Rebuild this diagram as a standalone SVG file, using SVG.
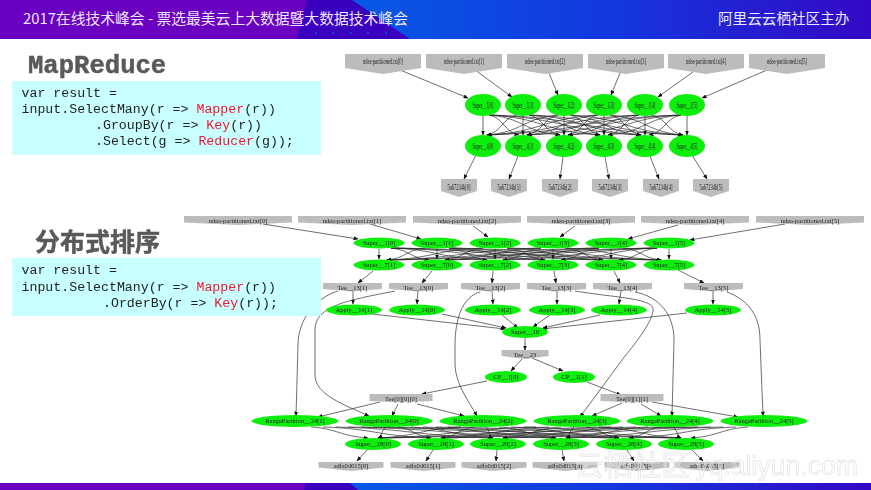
<svg xmlns="http://www.w3.org/2000/svg" width="871" height="490" viewBox="0 0 871 490">
<style>
text{font-family:"Liberation Serif","Noto Sans CJK SC",serif}
.hd{font-family:"Noto Sans CJK SC","Noto Sans",sans-serif;font-size:14.6px;fill:#ece6ff}
.code{font-family:"Liberation Mono",monospace;font-size:13.25px;fill:#222;white-space:pre}
.code tspan{fill:#f01830}
.ttl{font-family:"Liberation Mono","Noto Sans CJK SC",monospace;font-weight:700;fill:#595959;stroke:#595959;stroke-width:.5}
.box{fill:#c8ffff}
.g{fill:#11ee11}
.p{fill:#bcbcbc}
.l{text-anchor:middle;fill:#222;font-size:6.5px}
.t{font-size:8px}
.e{fill:none;stroke:#222;stroke-width:.65;marker-end:url(#a)}
.wm{font-size:28px;fill:#fff;fill-opacity:.3;stroke:#dcdcdc;stroke-width:.6}
.wc{font-family:"Noto Sans CJK SC",sans-serif}
.wl{font-family:"Liberation Sans",sans-serif}
</style>
<defs>
<linearGradient id="bl" gradientUnits="userSpaceOnUse" x1="350" y1="0" x2="871" y2="0"><stop offset="0" stop-color="#0758e4"/><stop offset=".5" stop-color="#1338de"/><stop offset="1" stop-color="#3308c4"/></linearGradient>
<filter id="soft" x="0" y="0" width="1" height="1"><feGaussianBlur stdDeviation=".35"/></filter>
<marker id="a" markerUnits="userSpaceOnUse" markerWidth="5" markerHeight="4" refX="4.5" refY="2" orient="auto"><path d="M0,0L5,2L0,4z" fill="#111" stroke="none"/></marker>
<polygon id="s1" class="p" points="-38,-7 38,-7 38,7 0,13 -38,7"/>
<polygon id="s2" class="p" points="-18,-8 18,-8 18,4 0,10 -18,4"/>
<polygon id="s3" class="p" points="-54,-5 54,-5 54,1.5 0,4 -54,1.5"/>
<polygon id="s4" class="p" points="-29.5,-4.5 29.5,-4.5 29.5,1.5 0,4 -29.5,1.5"/>
<polygon id="s5" class="p" points="-23.5,-5 23.5,-5 23.5,1 0,4 -23.5,1"/>
<polygon id="s6" class="p" points="-31.5,-5 31.5,-5 31.5,2 0,3.5 -31.5,2"/>
<polygon id="s7" class="p" points="-32.5,-4 32.5,-4 32.5,1.5 0,5 -32.5,1.5"/>
</defs>
<rect width="871" height="490" fill="#fff"/>
<g id="header">
<rect width="871" height="39" fill="url(#bl)"/>
<polygon points="290,0 352,0 410,39 290,39" fill="#3a00c0"/>
<polygon points="0,0 307,0 297,39 0,39" fill="#6a00c0"/>
<g fill="#1040d8"><rect x="315" y="32" width="2" height="2"/><rect x="332" y="32" width="2" height="2"/><rect x="350" y="32" width="2" height="2"/><rect x="367" y="32" width="2" height="2"/><rect x="385" y="32" width="2" height="2"/></g>
<rect y="39" width="871" height="1" fill="#fff" fill-opacity=".2"/>
<text class="hd" x="23" y="24" style="font-size:14.8px">2017在线技术峰会 - 票选最美云上大数据暨大数据技术峰会</text>
<text class="hd" x="718" y="24">阿里云云栖社区主办</text>
</g>
<g id="footer">
<rect y="483" width="871" height="7" fill="url(#bl)"/>
<polygon points="295,483 350,483 358,490 295,490" fill="#3a00c0"/>
<polygon points="0,483 306,483 304,490 0,490" fill="#6a00c0"/>
</g>
<g id="connectors" filter="url(#soft)"><g class="e">
<path d="M400,70L468,98"/><path d="M475,70L512,97"/><path d="M549,73L558,95"/><path d="M620,73L611,95"/><path d="M693,72L658,97"/><path d="M767,70L702,98"/>
<path d="M483,116V135"/><path d="M523,116V135"/><path d="M564,116V135"/><path d="M604,116V135"/><path d="M645,116V135"/><path d="M687,116V135"/>
<path d="M489,115c15,3 15,17 30,20"/><path d="M489,115c35,3 35,17 71,20"/><path d="M489,115c55,3 55,17 111,20"/><path d="M489,115c76,3 76,17 152,20"/><path d="M489,115c97,3 97,17 194,20"/>
<path d="M517,115c-15,3 -15,17 -30,20"/><path d="M529,115c15,3 15,17 31,20"/><path d="M529,115c35,3 35,17 71,20"/><path d="M529,115c56,3 56,17 112,20"/><path d="M529,115c77,3 77,17 154,20"/>
<path d="M558,115c-35,3 -35,17 -71,20"/><path d="M558,115c-15,3 -15,17 -31,20"/><path d="M570,115c15,3 15,17 30,20"/><path d="M570,115c35,3 35,17 71,20"/><path d="M570,115c56,3 56,17 113,20"/>
<path d="M598,115c-55,3 -55,17 -111,20"/><path d="M598,115c-35,3 -35,17 -71,20"/><path d="M598,115c-15,3 -15,17 -30,20"/><path d="M610,115c15,3 15,17 31,20"/><path d="M610,115c36,3 36,17 73,20"/>
<path d="M639,115c-76,3 -76,17 -152,20"/><path d="M639,115c-56,3 -56,17 -112,20"/><path d="M639,115c-35,3 -35,17 -71,20"/><path d="M639,115c-15,3 -15,17 -31,20"/><path d="M651,115c16,3 16,17 32,20"/>
<path d="M681,115c-97,3 -97,17 -194,20"/><path d="M681,115c-77,3 -77,17 -154,20"/><path d="M681,115c-56,3 -56,17 -113,20"/><path d="M681,115c-36,3 -36,17 -73,20"/><path d="M681,115c-16,3 -16,17 -32,20"/>
<path d="M476,155L464,179"/><path d="M518,156L509,179"/><path d="M563,157L560,179"/><path d="M605,157L609,179"/><path d="M650,156L659,179"/><path d="M692,155L707,179"/>
<path d="M263,224L358,239"/><path d="M370,224L421,239"/><path d="M473,226L488,237"/><path d="M575,226L560,237"/><path d="M678,225L628,239"/><path d="M785,224L690,240"/>
<path d="M379,249V259"/><path d="M437,249V259"/><path d="M495,249V259"/><path d="M553,249V259"/><path d="M611,249V259"/><path d="M669,249V259"/>
<path d="M391,248c19,2 19,10 38,12"/><path d="M391,248c48,2 48,10 96,12"/><path d="M391,248c77,2 77,10 154,12"/><path d="M391,248c106,2 106,10 212,12"/><path d="M391,248c135,2 135,10 270,12"/>
<path d="M425,248c-19,2 -19,10 -38,12"/><path d="M449,248c19,2 19,10 38,12"/><path d="M449,248c48,2 48,10 96,12"/><path d="M449,248c77,2 77,10 154,12"/><path d="M449,248c106,2 106,10 212,12"/>
<path d="M483,248c-48,2 -48,10 -96,12"/><path d="M483,248c-19,2 -19,10 -38,12"/><path d="M507,248c19,2 19,10 38,12"/><path d="M507,248c48,2 48,10 96,12"/><path d="M507,248c77,2 77,10 154,12"/>
<path d="M541,248c-77,2 -77,10 -154,12"/><path d="M541,248c-48,2 -48,10 -96,12"/><path d="M541,248c-19,2 -19,10 -38,12"/><path d="M565,248c19,2 19,10 38,12"/><path d="M565,248c48,2 48,10 96,12"/>
<path d="M599,248c-106,2 -106,10 -212,12"/><path d="M599,248c-77,2 -77,10 -154,12"/><path d="M599,248c-48,2 -48,10 -96,12"/><path d="M599,248c-19,2 -19,10 -38,12"/><path d="M623,248c19,2 19,10 38,12"/>
<path d="M657,248c-135,2 -135,10 -270,12"/><path d="M657,248c-106,2 -106,10 -212,12"/><path d="M657,248c-77,2 -77,10 -154,12"/><path d="M657,248c-48,2 -48,10 -96,12"/><path d="M657,248c-19,2 -19,10 -38,12"/>
<path d="M373,271L358,283"/><path d="M432,271L422,283"/><path d="M493,271L492,283"/><path d="M554,271L556,283"/><path d="M614,271L620,283"/><path d="M678,270L704,283"/>
<path d="M353,291V304"/><path d="M418,291L417,304"/><path d="M492,291L493,304"/><path d="M557,291V304"/><path d="M621,291L619,304"/><path d="M713,291V304"/>
<path d="M372,314L505,329"/><path d="M442,314L506,328"/><path d="M502,315L518,328"/><path d="M550,315L533,327"/><path d="M600,315L543,328"/><path d="M687,313L542,329"/>
<path d="M525,338V350"/><path d="M522,359L511,371"/><path d="M532,358L563,371"/><path d="M487,381L422,394"/><path d="M587,382L621,395"/>
<path d="M380,402L318,417"/><path d="M398,404L392,416"/><path d="M417,404L464,416"/><path d="M622,403L592,416"/><path d="M641,404L661,416"/><path d="M652,402L738,417"/>
<path d="M338,291C315,298 298,320 298,345L296,416"/>
<path d="M395,291C350,300 315,305 315,330L315,375C315,395 345,405 369,416"/>
<path d="M480,292C462,297 455,320 455,345L455,365C456,385 468,400 477,416"/>
<path d="M575,291C610,297 650,298 653,308C655,320 630,350 625,356L580,417"/>
<path d="M635,292C660,297 674,315 674,340L672,416"/>
<path d="M727,292C748,300 760,315 760,340L763,416"/>
<path d="M311,427c28,2 28,9 57,11"/><path d="M323,427c54,2 54,9 108,11"/><path d="M336,427c78,2 78,9 157,11"/><path d="M348,427c104,2 104,9 208,11"/><path d="M361,427c129,2 129,9 258,11"/><path d="M373,427c154,2 154,9 308,11"/>
<path d="M386,427c-4,2 -4,9 -8,11"/><path d="M398,427c16,2 16,9 33,11"/><path d="M411,427c41,2 41,9 82,11"/><path d="M423,427c66,2 66,9 133,11"/><path d="M436,427c91,2 91,9 183,11"/><path d="M448,427c116,2 116,9 233,11"/>
<path d="M461,427c-41,2 -41,9 -83,11"/><path d="M474,427c-16,2 -16,9 -33,11"/><path d="M486,427c3,2 3,9 7,11"/><path d="M499,427c28,2 28,9 57,11"/><path d="M511,427c54,2 54,9 108,11"/><path d="M524,427c78,2 78,9 157,11"/>
<path d="M536,427c-79,2 -79,9 -158,11"/><path d="M549,427c-54,2 -54,9 -108,11"/><path d="M561,427c-29,2 -29,9 -58,11"/><path d="M574,427c-4,2 -4,9 -8,11"/><path d="M586,427c16,2 16,9 33,11"/><path d="M599,427c41,2 41,9 82,11"/>
<path d="M611,427c-116,2 -116,9 -233,11"/><path d="M623,427c-91,2 -91,9 -182,11"/><path d="M636,427c-66,2 -66,9 -133,11"/><path d="M648,427c-41,2 -41,9 -82,11"/><path d="M661,427c-16,2 -16,9 -32,11"/><path d="M673,427c4,2 4,9 8,11"/>
<path d="M686,427c-154,2 -154,9 -308,11"/><path d="M698,427c-128,2 -128,9 -257,11"/><path d="M711,427c-104,2 -104,9 -208,11"/><path d="M723,427c-78,2 -78,9 -157,11"/><path d="M736,427c-53,2 -53,9 -107,11"/><path d="M748,427c-28,2 -28,9 -57,11"/>
<path d="M368,449L357,461"/><path d="M433,450L426,461"/><path d="M497,450L496,461"/><path d="M562,450L564,461"/><path d="M627,450L634,461"/><path d="M692,450L703,461"/>
</g></g>
<g id="nodes" filter="url(#soft)">
<g id="top-src0"><use href="#s1" x="383" y="61"/><text class="l t" x="383" y="64" textLength="40" lengthAdjust="spacingAndGlyphs">ndea-partitioned.txt[0]</text></g>
<g id="top-src1"><use href="#s1" x="464" y="61"/><text class="l t" x="464" y="64" textLength="40" lengthAdjust="spacingAndGlyphs">ndea-partitioned.txt[1]</text></g>
<g id="top-src2"><use href="#s1" x="545" y="61"/><text class="l t" x="545" y="64" textLength="40" lengthAdjust="spacingAndGlyphs">ndea-partitioned.txt[2]</text></g>
<g id="top-src3"><use href="#s1" x="626" y="61"/><text class="l t" x="626" y="64" textLength="40" lengthAdjust="spacingAndGlyphs">ndea-partitioned.txt[3]</text></g>
<g id="top-src4"><use href="#s1" x="706" y="61"/><text class="l t" x="706" y="64" textLength="40" lengthAdjust="spacingAndGlyphs">ndea-partitioned.txt[4]</text></g>
<g id="top-src5"><use href="#s1" x="787" y="61"/><text class="l t" x="787" y="64" textLength="40" lengthAdjust="spacingAndGlyphs">ndea-partitioned.txt[5]</text></g>
<g id="top-a0"><ellipse class="g" cx="483" cy="105" rx="18" ry="11"/><text class="l t" x="483" y="108" textLength="21" lengthAdjust="spacingAndGlyphs">Super__1[0]</text></g>
<g id="top-a1"><ellipse class="g" cx="523" cy="105" rx="18" ry="11"/><text class="l t" x="523" y="108" textLength="21" lengthAdjust="spacingAndGlyphs">Super__1[1]</text></g>
<g id="top-a2"><ellipse class="g" cx="564" cy="105" rx="18" ry="11"/><text class="l t" x="564" y="108" textLength="21" lengthAdjust="spacingAndGlyphs">Super__1[2]</text></g>
<g id="top-a3"><ellipse class="g" cx="604" cy="105" rx="18" ry="11"/><text class="l t" x="604" y="108" textLength="21" lengthAdjust="spacingAndGlyphs">Super__1[3]</text></g>
<g id="top-a4"><ellipse class="g" cx="645" cy="105" rx="18" ry="11"/><text class="l t" x="645" y="108" textLength="21" lengthAdjust="spacingAndGlyphs">Super__1[4]</text></g>
<g id="top-a5"><ellipse class="g" cx="687" cy="105" rx="18" ry="11"/><text class="l t" x="687" y="108" textLength="21" lengthAdjust="spacingAndGlyphs">Super__1[5]</text></g>
<g id="top-b0"><ellipse class="g" cx="483" cy="146" rx="18" ry="11"/><text class="l t" x="483" y="149" textLength="21" lengthAdjust="spacingAndGlyphs">Super__4[0]</text></g>
<g id="top-b1"><ellipse class="g" cx="523" cy="146" rx="18" ry="11"/><text class="l t" x="523" y="149" textLength="21" lengthAdjust="spacingAndGlyphs">Super__4[1]</text></g>
<g id="top-b2"><ellipse class="g" cx="564" cy="146" rx="18" ry="11"/><text class="l t" x="564" y="149" textLength="21" lengthAdjust="spacingAndGlyphs">Super__4[2]</text></g>
<g id="top-b3"><ellipse class="g" cx="604" cy="146" rx="18" ry="11"/><text class="l t" x="604" y="149" textLength="21" lengthAdjust="spacingAndGlyphs">Super__4[3]</text></g>
<g id="top-b4"><ellipse class="g" cx="645" cy="146" rx="18" ry="11"/><text class="l t" x="645" y="149" textLength="21" lengthAdjust="spacingAndGlyphs">Super__4[4]</text></g>
<g id="top-b5"><ellipse class="g" cx="687" cy="146" rx="18" ry="11"/><text class="l t" x="687" y="149" textLength="21" lengthAdjust="spacingAndGlyphs">Super__4[5]</text></g>
<g id="top-o0"><use href="#s2" x="459" y="187"/><text class="l t" x="459" y="190" textLength="23" lengthAdjust="spacingAndGlyphs">5a67234b[0]</text></g>
<g id="top-o1"><use href="#s2" x="509" y="187"/><text class="l t" x="509" y="190" textLength="23" lengthAdjust="spacingAndGlyphs">5a67234b[1]</text></g>
<g id="top-o2"><use href="#s2" x="560" y="187"/><text class="l t" x="560" y="190" textLength="23" lengthAdjust="spacingAndGlyphs">5a67234b[2]</text></g>
<g id="top-o3"><use href="#s2" x="610" y="187"/><text class="l t" x="610" y="190" textLength="23" lengthAdjust="spacingAndGlyphs">5a67234b[3]</text></g>
<g id="top-o4"><use href="#s2" x="661" y="187"/><text class="l t" x="661" y="190" textLength="23" lengthAdjust="spacingAndGlyphs">5a67234b[4]</text></g>
<g id="top-o5"><use href="#s2" x="711" y="187"/><text class="l t" x="711" y="190" textLength="23" lengthAdjust="spacingAndGlyphs">5a67234b[5]</text></g>

<g id="src0"><use href="#s3" x="238" y="221"/><text class="l" x="238" y="223">ndea-partitioned.txt[0]</text></g>
<g id="src1"><use href="#s3" x="352" y="221"/><text class="l" x="352" y="223">ndea-partitioned.txt[1]</text></g>
<g id="src2"><use href="#s3" x="467" y="221"/><text class="l" x="467" y="223">ndea-partitioned.txt[2]</text></g>
<g id="src3"><use href="#s3" x="581" y="221"/><text class="l" x="581" y="223">ndea-partitioned.txt[3]</text></g>
<g id="src4"><use href="#s3" x="695" y="221"/><text class="l" x="695" y="223">ndea-partitioned.txt[4]</text></g>
<g id="src5"><use href="#s3" x="810" y="221"/><text class="l" x="810" y="223">ndea-partitioned.txt[5]</text></g>
<g id="a0"><ellipse class="g" cx="379" cy="243" rx="25.5" ry="5.5"/><text class="l" x="379" y="245">Super__1[0]</text></g>
<g id="a1"><ellipse class="g" cx="437" cy="243" rx="25.5" ry="5.5"/><text class="l" x="437" y="245">Super__1[1]</text></g>
<g id="a2"><ellipse class="g" cx="495" cy="243" rx="25.5" ry="5.5"/><text class="l" x="495" y="245">Super__1[2]</text></g>
<g id="a3"><ellipse class="g" cx="553" cy="243" rx="25.5" ry="5.5"/><text class="l" x="553" y="245">Super__1[3]</text></g>
<g id="a4"><ellipse class="g" cx="611" cy="243" rx="25.5" ry="5.5"/><text class="l" x="611" y="245">Super__1[4]</text></g>
<g id="a5"><ellipse class="g" cx="669" cy="243" rx="25.5" ry="5.5"/><text class="l" x="669" y="245">Super__1[5]</text></g>
<g id="b1"><ellipse class="g" cx="379" cy="265" rx="25.5" ry="5.5"/><text class="l" x="379" y="267">Super__7[1]</text></g>
<g id="b0"><ellipse class="g" cx="437" cy="265" rx="25.5" ry="5.5"/><text class="l" x="437" y="267">Super__7[0]</text></g>
<g id="b2"><ellipse class="g" cx="495" cy="265" rx="25.5" ry="5.5"/><text class="l" x="495" y="267">Super__7[2]</text></g>
<g id="b3"><ellipse class="g" cx="553" cy="265" rx="25.5" ry="5.5"/><text class="l" x="553" y="267">Super__7[3]</text></g>
<g id="b4"><ellipse class="g" cx="611" cy="265" rx="25.5" ry="5.5"/><text class="l" x="611" y="267">Super__7[4]</text></g>
<g id="b5"><ellipse class="g" cx="669" cy="265" rx="25.5" ry="5.5"/><text class="l" x="669" y="267">Super__7[5]</text></g>
<g id="tee1"><use href="#s4" x="352.5" y="287.5"/><text class="l" x="352.5" y="290">Tee__13[1]</text></g>
<g id="tee0"><use href="#s4" x="418.5" y="287.5"/><text class="l" x="418.5" y="290">Tee__13[0]</text></g>
<g id="tee2"><use href="#s4" x="490.5" y="287.5"/><text class="l" x="490.5" y="290">Tee__13[2]</text></g>
<g id="tee3"><use href="#s4" x="556.5" y="287.5"/><text class="l" x="556.5" y="290">Tee__13[3]</text></g>
<g id="tee4"><use href="#s4" x="622.5" y="287.5"/><text class="l" x="622.5" y="290">Tee__13[4]</text></g>
<g id="tee5"><use href="#s4" x="713.5" y="287.5"/><text class="l" x="713.5" y="290">Tee__13[5]</text></g>
<g id="ap1"><ellipse class="g" cx="354" cy="310" rx="28" ry="5.5"/><text class="l" x="354" y="312">Apply__14[1]</text></g>
<g id="ap0"><ellipse class="g" cx="417" cy="310" rx="28" ry="5.5"/><text class="l" x="417" y="312">Apply__14[0]</text></g>
<g id="ap2"><ellipse class="g" cx="493" cy="310" rx="28" ry="5.5"/><text class="l" x="493" y="312">Apply__14[2]</text></g>
<g id="ap3"><ellipse class="g" cx="557" cy="310" rx="28" ry="5.5"/><text class="l" x="557" y="312">Apply__14[3]</text></g>
<g id="ap4"><ellipse class="g" cx="619" cy="310" rx="28" ry="5.5"/><text class="l" x="619" y="312">Apply__14[4]</text></g>
<g id="ap5"><ellipse class="g" cx="713" cy="310" rx="28" ry="5.5"/><text class="l" x="713" y="312">Apply__14[5]</text></g>
<g id="s18"><ellipse class="g" cx="525" cy="332" rx="23" ry="6"/><text class="l" x="525" y="334">Super__18</text></g>
<g id="t23"><use href="#s5" x="525" y="355"/><text class="l" x="525" y="357">Tee__23</text></g>
<g id="cp0"><ellipse class="g" cx="506" cy="377" rx="21" ry="6"/><text class="l" x="506" y="379">CP__1[0]</text></g>
<g id="cp1"><ellipse class="g" cx="574" cy="377" rx="21" ry="6"/><text class="l" x="574" y="379">CP__1[1]</text></g>
<g id="t000"><use href="#s6" x="401" y="399"/><text class="l" x="401" y="401">Tee[0][0][0]</text></g>
<g id="t011"><use href="#s6" x="632" y="399"/><text class="l" x="632" y="401">Tee[0][1][1]</text></g>
<g id="r1"><ellipse class="g" cx="295" cy="421" rx="43.5" ry="6"/><text class="l" x="295" y="423">RangePartition__24[1]</text></g>
<g id="r0"><ellipse class="g" cx="389" cy="421" rx="43.5" ry="6"/><text class="l" x="389" y="423">RangePartition__24[0]</text></g>
<g id="r2"><ellipse class="g" cx="483" cy="421" rx="43.5" ry="6"/><text class="l" x="483" y="423">RangePartition__24[2]</text></g>
<g id="r3"><ellipse class="g" cx="577" cy="421" rx="43.5" ry="6"/><text class="l" x="577" y="423">RangePartition__24[3]</text></g>
<g id="r4"><ellipse class="g" cx="670" cy="421" rx="43.5" ry="6"/><text class="l" x="670" y="423">RangePartition__24[4]</text></g>
<g id="r5"><ellipse class="g" cx="764" cy="421" rx="43.5" ry="6"/><text class="l" x="764" y="423">RangePartition__24[5]</text></g>
<g id="c0"><ellipse class="g" cx="373" cy="444" rx="28" ry="6"/><text class="l" x="373" y="446">Super__28[0]</text></g>
<g id="c1"><ellipse class="g" cx="436" cy="444" rx="28" ry="6"/><text class="l" x="436" y="446">Super__28[1]</text></g>
<g id="c2"><ellipse class="g" cx="498" cy="444" rx="28" ry="6"/><text class="l" x="498" y="446">Super__28[2]</text></g>
<g id="c3"><ellipse class="g" cx="561" cy="444" rx="28" ry="6"/><text class="l" x="561" y="446">Super__28[3]</text></g>
<g id="c4"><ellipse class="g" cx="624" cy="444" rx="28" ry="6"/><text class="l" x="624" y="446">Super__28[4]</text></g>
<g id="c5"><ellipse class="g" cx="686" cy="444" rx="28" ry="6"/><text class="l" x="686" y="446">Super__28[5]</text></g>
<g id="o0"><use href="#s7" x="351" y="466"/><text class="l" x="351" y="468">adfs0d015[0]</text></g>
<g id="o1"><use href="#s7" x="423" y="466"/><text class="l" x="423" y="468">adfs0d015[1]</text></g>
<g id="o2"><use href="#s7" x="494" y="466"/><text class="l" x="494" y="468">adfs0d015[2]</text></g>
<g id="o3"><use href="#s7" x="565" y="466"/><text class="l" x="565" y="468">adfs0d015[3]</text></g>
<g id="o4"><use href="#s7" x="637" y="466"/><text class="l" x="637" y="468">adfs0d015[4]</text></g>
<g id="o5"><use href="#s7" x="707" y="466"/><text class="l" x="707" y="468">adfs0d015[5]</text></g>
</g>
<g id="code1">
<text class="ttl" x="28" y="73" font-size="25.6">MapReduce</text>
<rect class="box" x="12" y="81" width="309" height="74"/>
<text class="code" x="21.5" y="97">var result =</text>
<text class="code" x="21.5" y="113">input.SelectMany(r =&gt; <tspan>Mapper</tspan>(r))</text>
<text class="code" x="95" y="129">.GroupBy(r =&gt; <tspan>Key</tspan>(r))</text>
<text class="code" x="95" y="145">.Select(g =&gt; <tspan>Reducer</tspan>(g));</text>
</g>
<g id="code2">
<text class="ttl" x="35" y="251" font-size="25">分布式排序</text>
<rect class="box" x="12" y="258" width="309" height="58"/>
<text class="code" x="21.5" y="274">var result =</text>
<text class="code" x="21.5" y="291">input.SelectMany(r =&gt; <tspan>Mapper</tspan>(r))</text>
<text class="code" x="103" y="307">.OrderBy(r =&gt; <tspan>Key</tspan>(r));</text>
</g>
<g id="watermark">
<text class="wm wc" x="575" y="476" textLength="115" lengthAdjust="spacingAndGlyphs">云栖社区</text>
<text class="wm wl" x="695" y="475" textLength="163" lengthAdjust="spacingAndGlyphs">yq.aliyun.com</text>
</g>
</svg>
